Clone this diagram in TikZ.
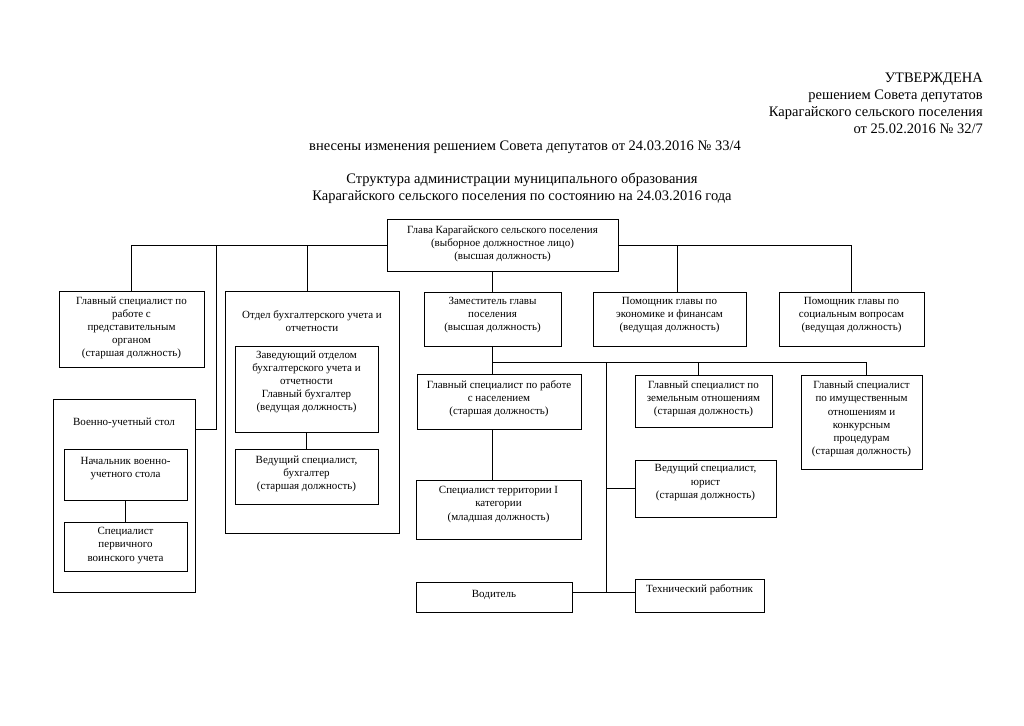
\documentclass[tikz,border=0pt]{standalone}
\usepackage{fontspec}
\setmainfont{Liberation Serif}
\usetikzlibrary{calc}
\newcommand\orgbox[5]{\node[box, minimum width={#4-#2}, minimum height={#5-#3}] (#1) at ({(#2+#4)/2},{(#3+#5)/2}) {};}
\begin{document}
\begin{tikzpicture}[x=1pt,y=-1pt,
  box/.style={draw, line width=1pt, rectangle, inner sep=0pt},
  txt/.style={align=center, font=\fontsize{11}{13.2}\selectfont, inner sep=0pt},
  hdr/.style={font=\fontsize{14.5}{17}\selectfont, inner sep=0pt},
  ln/.style={line width=0.8pt}]
\useasboundingbox (0,0) rectangle (1024,725);
\fill[white] (0,0) rectangle (1024,725);

% header
\node[hdr, anchor=base east] (h1) at (983,82) {УТВЕРЖДЕНА};
\node[hdr, anchor=base east] (h2) at (983,99) {решением Совета депутатов};
\node[hdr, anchor=base east] (h3) at (983,116) {Карагайского сельского поселения};
\node[hdr, anchor=base east] (h4) at (983,133) {от 25.02.2016 № 32/7};
\node[hdr, anchor=base] (h5) at (525,150) {внесены изменения решением Совета депутатов от 24.03.2016 № 33/4};
\node[hdr, anchor=base] (h6) at (522,183) {Структура администрации муниципального образования};
\node[hdr, anchor=base] (h7) at (522,200) {Карагайского сельского поселения по состоянию на 24.03.2016 года};

% boxes
\orgbox{glava}{387}{219}{618}{271}
\orgbox{pred}{59}{291}{204}{367}
\orgbox{otdel}{225}{291}{399}{533}
\orgbox{zav}{235}{346}{378}{432}
\orgbox{vedbuh}{235}{449}{378}{504}
\orgbox{voen}{53}{399}{195}{592}
\orgbox{nach}{64}{449}{187}{500}
\orgbox{specperv}{64}{522}{187}{571}
\orgbox{zam}{424}{292}{561}{346}
\orgbox{econ}{593}{292}{746}{346}
\orgbox{soc}{779}{292}{924}{346}
\orgbox{nasel}{417}{374}{581}{429}
\orgbox{terr}{416}{480}{581}{539}
\orgbox{zemel}{635}{375}{772}{427}
\orgbox{imush}{801}{375}{922}{469}
\orgbox{yurist}{635}{460}{776}{517}
\orgbox{vod}{416}{582}{572}{612}
\orgbox{tekh}{635}{579}{764}{612}

% texts
\node[txt] (glava-t) at (502.5,244) {Глава Карагайского сельского поселения\\(выборное должностное лицо)\\(высшая должность)};
\node[txt] (pred-t) at (131.5,328) {Главный специалист по\\работе с\\представительным\\органом\\(старшая должность)};
\node[txt] (otdel-t) at (312,321.5) {Отдел бухгалтерского учета и\\отчетности};
\node[txt] (zav-t) at (306.5,382) {Заведующий отделом\\бухгалтерского учета и\\отчетности\\Главный бухгалтер\\(ведущая должность)};
\node[txt] (vedbuh-t) at (306.5,474) {Ведущий специалист,\\бухгалтер\\(старшая должность)};
\node[txt] (voen-t) at (124,423) {Военно-учетный стол};
\node[txt] (nach-t) at (125.5,468.5) {Начальник военно-\\учетного стола};
\node[txt] (specperv-t) at (125.5,545.5) {Специалист\\первичного\\воинского учета};
\node[txt] (zam-t) at (492.5,315) {Заместитель главы\\поселения\\(высшая должность)};
\node[txt] (econ-t) at (669.5,315) {Помощник главы по\\экономике и финансам\\(ведущая должность)};
\node[txt] (soc-t) at (851.5,315) {Помощник главы по\\социальным вопросам\\(ведущая должность)};
\node[txt] (nasel-t) at (499,399) {Главный специалист по работе\\с населением\\(старшая должность)};
\node[txt] (terr-t) at (498.5,504.5) {Специалист территории I\\категории\\(младшая должность)};
\node[txt] (zemel-t) at (703.5,399) {Главный специалист по\\земельным отношениям\\(старшая должность)};
\node[txt] (imush-t) at (861.5,419) {Главный специалист\\по имущественным\\отношениям и\\конкурсным\\процедурам\\(старшая должность)};
\node[txt] (yurist-t) at (705.5,482.5) {Ведущий специалист,\\юрист\\(старшая должность)};
\node[txt] (vod-t) at (494,595) {Водитель};
\node[txt] (tekh-t) at (699.5,590) {Технический работник};

% junction coordinates
\coordinate (yH) at (0,362);
\coordinate (yB) at (0,592);
\coordinate (jV) at (216,245);
\coordinate (jV2) at (216,429);
\coordinate (jO) at (307,245);
\coordinate (jE) at (677,245);
\coordinate (jZem) at (698,362);
\coordinate (jIm) at (866,362);
\coordinate (jM) at (606,362);

% connectors from Glava
\draw[ln] (glava.west) -| (pred.north);
\draw[ln] (jV) -- (jV2) -- (jV2 -| voen.east);
\draw[ln] (jO) -- (jO |- otdel.north);
\draw[ln] (glava.east) -| (soc.north);
\draw[ln] (jE) -- (jE |- econ.north);
\draw[ln] (zam.north |- glava.south) -- (zam.north);

% inside departments
\draw[ln] (zav.south) -- (vedbuh.north);
\draw[ln] (nach.south) -- (specperv.north);

% deputy subordinates
\draw[ln] (zam.south) -- (zam.south |- nasel.north);
\draw[ln] (zam.south |- yH) -- (jIm) -- (jIm |- imush.north);
\draw[ln] (jZem) -- (jZem |- zemel.north);
\draw[ln] (zam.south |- nasel.south) -- (zam.south |- terr.north);
\draw[ln] (jM) -- (jM |- yB);
\draw[ln] (jM |- yurist.west) -- (yurist.west);
\draw[ln] (vod.east |- yB) -- (tekh.west |- yB);
\end{tikzpicture}
\end{document}
